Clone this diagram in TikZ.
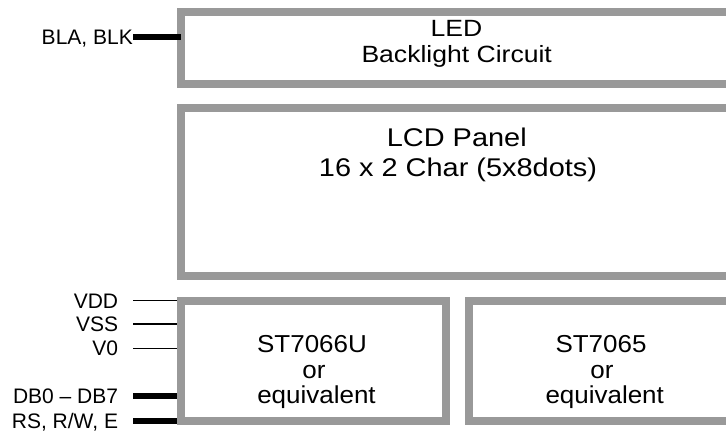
\documentclass[tikz,border=0pt]{standalone}
\usepackage{fontspec}
\setmainfont{Liberation Sans}
\newfontfamily\wideA[FakeStretch=1.13]{Liberation Sans}
\newfontfamily\wideB[FakeStretch=1.06]{Liberation Sans}
\definecolor{boxgray}{RGB}{153,153,153}
\begin{document}
\begin{tikzpicture}[x=1pt,y=-1pt,
  blockbox/.style={draw=boxgray, line width=8pt, rectangle, inner sep=0pt, outer sep=0pt},
  ledtext/.style={anchor=base, inner sep=0pt, font=\wideA\fontsize{23.5}{27}\selectfont},
  lcdtext/.style={anchor=base, inner sep=0pt, font=\wideA\fontsize{25.6}{30}\selectfont},
  chiptext/.style={anchor=base, inner sep=0pt, font=\wideB\fontsize{24.5}{26}\selectfont},
  pinlabel/.style={anchor=east, inner sep=0pt, text height=15pt, text depth=0pt, font=\fontsize{21}{24}\selectfont},
  thinpin/.style={draw=black, line width=1.2pt},
  thickpin/.style={draw=black, line width=6pt}
]
\clip (0,0) rectangle (726,432);
\fill[white] (0,0) rectangle (726,432);

% blocks
\node[blockbox, minimum width=554pt, minimum height=72pt] (led) at (458,48) {};
\node[blockbox, minimum width=554pt, minimum height=167.7pt] (lcd) at (458,192.15) {};
\node[blockbox, minimum width=265pt, minimum height=120.3pt] (st66) at (313.5,360.85) {};
\node[blockbox, minimum width=266pt, minimum height=120.3pt] (st65) at (602,360.85) {};

% block texts
\node[ledtext] (ledA) at (456.5,36) {LED};
\node[ledtext] (ledB) at (456.7,62.7) {Backlight Circuit};
\node[lcdtext] (lcdA) at (456.8,146.7) {LCD Panel};
\node[lcdtext] (lcdB) at (458,176.7) {16 x 2 Char (5x8dots)};
\node[chiptext] (st66A) at (312,352.7) {ST7066U};
\node[chiptext] (st66B) at (314,378.3) {or};
\node[chiptext] (st66C) at (316.5,403.3) {equivalent};
\node[chiptext] (st65A) at (601,352.7) {ST7065};
\node[chiptext] (st65B) at (602,378.3) {or};
\node[chiptext] (st65C) at (604.7,403.3) {equivalent};

% pin labels
\node[pinlabel] (bla) at (133,36.5) {BLA, BLK};
\node[pinlabel] (vdd) at (118.3,300.7) {VDD};
\node[pinlabel] (vss) at (118.3,324) {VSS};
\node[pinlabel] (vzero) at (118.3,348.3) {V0};
\node[pinlabel] (db) at (118.3,396) {DB0 -- DB7};
\node[pinlabel] (rs) at (118.3,420.7) {RS, R/W, E};

% connectors
\draw[thickpin] (bla.east) -- (bla.east -| led.west);
\draw[thinpin, shorten <=14.7pt, shorten >=4pt] (vdd.east) -- (vdd.east -| st66.west);
\draw[thinpin, shorten <=14.7pt, shorten >=4pt] (vss.east) -- (vss.east -| st66.west);
\draw[thinpin, shorten <=14.7pt, shorten >=4pt] (vzero.east) -- (vzero.east -| st66.west);
\draw[thickpin, shorten <=14.7pt, shorten >=4pt] (db.east) -- (db.east -| st66.west);
\draw[thickpin, shorten <=14.7pt, shorten >=4pt] (rs.east) -- (rs.east -| st66.west);
\end{tikzpicture}
\end{document}
